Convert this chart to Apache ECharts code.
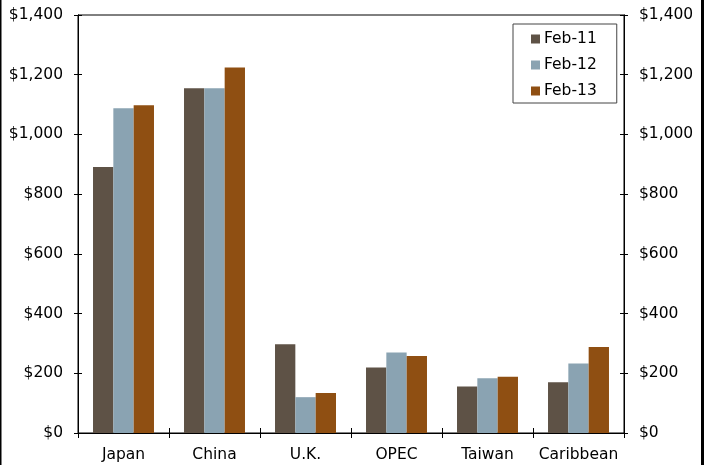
<!DOCTYPE html>
<html>
<head>
<meta charset="utf-8">
<script src="https://cdn.jsdelivr.net/npm/echarts@6/dist/echarts.min.js"></script>
<style>html,body{margin:0;padding:0;background:#fff}#c{width:707px;height:465px}</style>
</head>
<body>
<div id="c"></div>
<script>
var categories = ['Japan', 'China', 'U.K.', 'OPEC', 'Taiwan', 'Caribbean'];
var seriesNames = ['Feb-11', 'Feb-12', 'Feb-13'];
var feb11 = [891, 1155, 297, 219, 156, 170];
var feb12 = [1088, 1155, 120, 270, 183, 233];
var feb13 = [1098, 1224, 134, 258, 188, 288];
var yTicks = [0, 200, 400, 600, 800, 1000, 1200, 1400];

var colors = ['#5e5246', '#8aa3b2', '#8f4f12'];
var font = 'DejaVu Sans';
function fmt(v) { return '$' + v.toLocaleString('en-US'); }

function yAx(pos, inside, labels) {
  return {
    type: 'value', position: pos, min: yTicks[0], max: yTicks[yTicks.length - 1], interval: 200,
    axisLine: { show: true, lineStyle: { color: '#000', width: 1 } },
    axisTick: { show: true, inside: inside, length: 4, lineStyle: { color: '#000' } },
    axisLabel: { show: labels, formatter: fmt, color: '#000', fontFamily: font, fontSize: 15.5, margin: 15 },
    splitLine: { show: false }
  };
}
function xAx(inside, labels) {
  return {
    type: 'category', position: 'bottom', data: categories,
    axisLine: { show: true, lineStyle: { color: '#000', width: 1 } },
    axisTick: { show: true, inside: inside, length: 5, interval: 0, lineStyle: { color: '#000' } },
    axisLabel: { show: labels, interval: 0, color: '#000', fontFamily: font, fontSize: 15.5, margin: 13.5 }
  };
}
var data = [feb11, feb12, feb13];
var series = seriesNames.map(function (n, i) {
  return {
    name: n, type: 'bar', data: data[i], xAxisIndex: 0, yAxisIndex: 0,
    barGap: '0%', barCategoryGap: '33%',
    itemStyle: { color: colors[i] }
  };
});
var chart = echarts.init(document.getElementById('c'), null, { renderer: 'canvas' });
chart.setOption({
  animation: false,
  grid: { left: 78, right: 83, top: 15, bottom: 32, show: true, borderColor: '#000', borderWidth: 1 },
  xAxis: [xAx(false, true), xAx(true, false)],
  yAxis: [yAx('left', false, true), yAx('left', true, false), yAx('right', false, true), yAx('right', true, false)],
  legend: {
    orient: 'vertical', left: 513, top: 24, data: seriesNames,
    itemWidth: 9, itemHeight: 9, itemGap: 10, icon: 'rect',
    borderColor: '#444', borderWidth: 1, padding: [7, 20, 4, 18],
    textStyle: { fontFamily: font, fontSize: 15.5, color: '#000', padding: [0, 0, 0, -1] }
  },
  graphic: [
    { type: 'rect', shape: { x: 0, y: 0, width: 1.5, height: 465 }, style: { fill: '#000' } },
    { type: 'rect', shape: { x: 701, y: 0, width: 3, height: 465 }, style: { fill: '#000' } }
  ],
  series: series
});
</script>
</body>
</html>
